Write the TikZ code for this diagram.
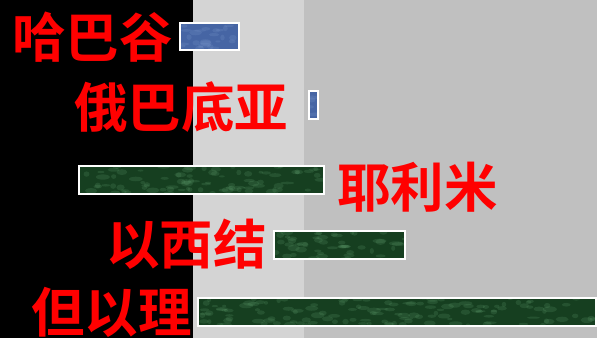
\documentclass[tikz,border=0pt]{standalone}
\usepackage{fontspec}
\newfontfamily\cjk{Noto Sans CJK SC Bold}
\usetikzlibrary{positioning,calc}

\definecolor{panelgray}{HTML}{D4D4D4}
\definecolor{plotgray}{HTML}{C0C0C0}
\definecolor{barblue}{HTML}{4665A4}
\definecolor{barbluelight}{HTML}{7C98CC}
\definecolor{bargreen}{HTML}{163F20}
\definecolor{bargreenlight}{HTML}{5C9A6A}

\pgfmathsetseed{7}
\tikzset{
    prophet/.style={text=red, inner sep=0pt, anchor=base west, font=\cjk\fontsize{53.5}{54}\selectfont},
    bar/.style={draw=white, line width=1.8pt, inner sep=0pt, anchor=north west},
    mottle/.style={path picture={
        \foreach \i in {1,...,#1}
            \fill[spot, opacity=0.22]
                let \p1=(path picture bounding box.south west),
                    \p2=(path picture bounding box.north east) in
                ({\x1+rnd*(\x2-\x1)},{\y1+rnd*(\y2-\y1)})
                ellipse [x radius={2+5*rnd}, y radius={1+2*rnd}];
    }},
    bluebar/.style={bar, fill=barblue, spot/.style={fill=barbluelight}},
    greenbar/.style={bar, fill=bargreen, spot/.style={fill=bargreenlight}}
}

\begin{document}
\begin{tikzpicture}[x=1pt, y=-1pt]
        % background bands
        \fill[black]     (0,0)   rectangle (193,338);
        \fill[panelgray] (193,0) rectangle (304,338);
        \fill[plotgray]  (304,0) rectangle (597,338);
        \useasboundingbox (0,0) rectangle (597,338);

        \node[prophet] (hab) at (12,57)  {哈巴谷};
        \node[prophet] (oba) at (74,127) {俄巴底亚};
        \node[prophet] (jer) at (337,207) {耶利米};
        \node[prophet] (eze) at (106,264) {以西结};
        \node[prophet] (dan) at (31,332) {但以理};

        \node[bluebar,  mottle=25,  minimum width=59pt,  minimum height=27pt] (habbar) at (179,22)  {};
        \node[bluebar,  mottle=4,   minimum width=9pt,   minimum height=28pt] (obabar) at (308,90)  {};
        \node[greenbar, mottle=90,  minimum width=245pt, minimum height=28pt] (jerbar) at (78,165)  {};
        \node[greenbar, mottle=50,  minimum width=131pt, minimum height=28pt] (ezebar) at (273,230) {};
        \node[greenbar, mottle=140, minimum width=398pt, minimum height=28pt] (danbar) at (197,297) {};
\end{tikzpicture}
\end{document}
